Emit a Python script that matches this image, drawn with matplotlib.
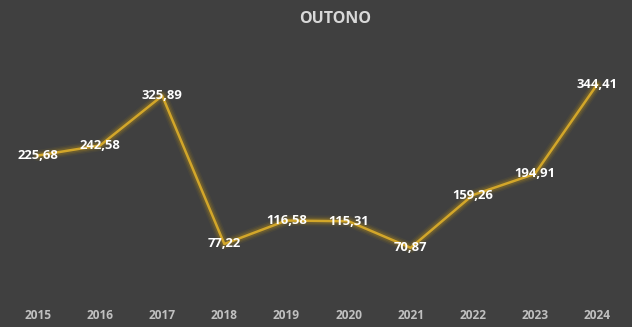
import matplotlib
matplotlib.use("Agg")
import matplotlib.pyplot as plt

years = ["2015", "2016", "2017", "2018", "2019", "2020", "2021", "2022", "2023", "2024"]
values = [225.68, 242.58, 325.89, 77.22, 116.58, 115.31, 70.87, 159.26, 194.91, 344.41]
labels = ["225,68", "242,58", "325,89", "77,22", "116,58", "115,31", "70,87", "159,26", "194,91", "344,41"]
title = "OUTONO"

bg = "#404040"
line_col = "#d2a62a"
glow_col = "#ffc000"
font = "Open Sans"

W, H = 632, 327
fig = plt.figure(figsize=(W / 100, H / 100), dpi=100, facecolor=bg)
ax = fig.add_axes([0, (H - 290) / H, 1, 260 / H], facecolor=bg)
x = list(range(len(years)))
scale = 559 / 9
ax.set_xlim(0 - 38 / scale, 9 + 35 / scale)
ax.set_ylim(0, 260 / 0.596)

for lw, a in [(8, 0.05), (6, 0.08), (4.2, 0.12)]:
    ax.plot(x, values, color=glow_col, lw=lw, alpha=a, solid_joinstyle="round",
            solid_capstyle="round", zorder=2)
ax.plot(x, values, color=line_col, lw=1.8, solid_joinstyle="round", zorder=3)

for xi, v, lab in zip(x, values, labels):
    ax.text(xi, v, lab, ha="center", va="center", color="white",
            fontsize=9.4, fontweight="bold", family=font, zorder=4)

for s in ax.spines.values():
    s.set_visible(False)
ax.set_yticks([])
ax.set_xticks(x)
ax.set_xticklabels(years, color="#c0c0c0", fontsize=8.6, fontweight="bold", family=font)
ax.tick_params(axis="x", length=0, pad=14)

fig.text(0.53, 1 - 19 / H, title, ha="center", va="center", color="#d9d9d9",
         fontsize=11.5, fontweight="bold", family=font)

fig.savefig("out.png", dpi=100, facecolor=bg)
